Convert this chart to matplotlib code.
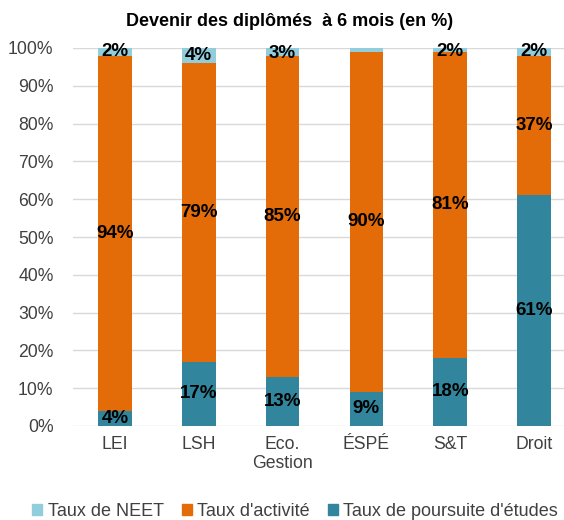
import matplotlib
matplotlib.use("Agg")
import matplotlib.pyplot as plt
import numpy as np
from matplotlib.patches import Patch

plt.rcParams['font.family'] = ['Liberation Sans', 'DejaVu Sans']

categories = ["LEI", "LSH", "Eco.\nGestion", "ÉSPÉ", "S&T", "Droit"]
poursuite = [4, 17, 13, 9, 18, 61]
activite = [94, 79, 85, 90, 81, 37]
neet = [2, 4, 3, 1, 2, 2]
series_names = ["Taux de NEET", "Taux d'activité", "Taux de poursuite d'études"]
title = "Devenir des diplômés  à 6 mois (en %)"

c_neet = "#92CDDC"
c_act = "#E36C09"
c_pour = "#31859C"

W, H = 564, 520
fig = plt.figure(figsize=(W / 100, H / 100), dpi=100)
ax = fig.add_axes([73 / W, 1 - 426 / H, (576 - 73) / W, (426 - 48) / H])

x = np.arange(len(categories))
bw = 0.40
p = np.array(poursuite)
a = np.array(activite)
n = np.array(neet)

ax.bar(x, p, bw, color=c_pour, zorder=3)
ax.bar(x, a, bw, bottom=p, color=c_act, zorder=3)
ax.bar(x, n, bw, bottom=p + a, color=c_neet, zorder=3)

lab_kw = dict(ha="center", va="center", fontsize=13.5, fontweight="bold", color="black", zorder=5)
for i in range(len(categories)):
    ax.text(x[i], p[i] / 2, f"{p[i]}%", **lab_kw)
    ax.text(x[i], p[i] + a[i] / 2, f"{a[i]}%", **lab_kw)
    if n[i] >= 2:
        ax.text(x[i], min(p[i] + a[i] + n[i] / 2, 100 - n[i] / 2), f"{n[i]}%", **lab_kw)

ax.set_xlim(-0.5, len(categories) - 0.5)
ax.set_ylim(0, 100)
ax.set_yticks(np.arange(0, 101, 10))
ax.set_yticklabels([f"{v}%" for v in range(0, 101, 10)], fontsize=12.7, color="#404040")
ax.set_xticks(x)
ax.set_xticklabels(categories, fontsize=12.7, color="#404040")
ax.tick_params(axis="both", length=0)
ax.tick_params(axis="y", pad=14)
ax.tick_params(axis="x", pad=7)
ax.grid(axis="y", color="#D9D9D9", linewidth=1, zorder=0)
for s in ax.spines.values():
    s.set_visible(False)

fig.text(290 / W, 1 - 22 / H, title, ha="center", va="center", fontsize=13, fontweight="bold", color="black")

handles = [Patch(color=c_neet), Patch(color=c_act), Patch(color=c_pour)]
fig.legend(handles, series_names, loc="center", bbox_to_anchor=(295 / W, 1 - 511 / H), ncol=3,
           frameon=False, fontsize=13, handlelength=0.55, handleheight=0.55, handletextpad=0.3,
           columnspacing=1.0, labelcolor="#404040", borderpad=0)

fig.savefig("out.png", dpi=100)
